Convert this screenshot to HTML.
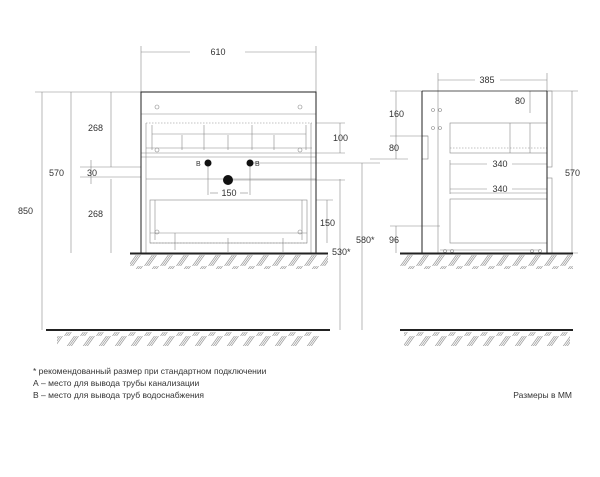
<!DOCTYPE html>
<html><head><meta charset="utf-8"><style>
html,body{margin:0;padding:0;background:#fff;width:600px;height:477px;overflow:hidden}
svg{display:block}
text{font-family:"Liberation Sans",sans-serif;fill:#333}
</style></head><body>
<svg width="600" height="477" viewBox="0 0 600 477" xmlns="http://www.w3.org/2000/svg">
<defs>
<pattern id="h" width="16" height="14" patternUnits="userSpaceOnUse">
<line x1="0.5" y1="14" x2="10.5" y2="0" stroke="#999" stroke-width="0.7"/>
<line x1="2.5" y1="14" x2="12.5" y2="0" stroke="#999" stroke-width="0.7"/>
<line x1="4.5" y1="14" x2="14.5" y2="0" stroke="#999" stroke-width="0.7"/>
</pattern>
</defs>
<g stroke="#888" stroke-width="0.6" fill="none">
<line x1="141" y1="46" x2="141" y2="92"/><line x1="316" y1="46" x2="316" y2="92"/>
<line x1="141" y1="52" x2="190" y2="52"/><line x1="245" y1="52" x2="316" y2="52"/>
<line x1="35" y1="92" x2="141" y2="92"/>
<line x1="42" y1="92" x2="42" y2="330"/>
<line x1="71" y1="92" x2="71" y2="253"/>
<line x1="111" y1="92" x2="111" y2="167"/><line x1="111" y1="179" x2="111" y2="253"/>
<line x1="91" y1="160" x2="91" y2="184"/>
<line x1="80" y1="167" x2="141" y2="167"/><line x1="80" y1="177" x2="141" y2="177"/>
<line x1="340" y1="123" x2="340" y2="153"/><line x1="316" y1="123" x2="345" y2="123"/><line x1="316" y1="153" x2="345" y2="153"/>
<line x1="327" y1="200" x2="327" y2="243"/><line x1="316" y1="200" x2="333" y2="200"/>
<line x1="340" y1="179" x2="340" y2="330"/>
<line x1="362" y1="163" x2="362" y2="330"/>
<line x1="250" y1="163" x2="380" y2="163"/>
<line x1="228" y1="180" x2="345" y2="180"/>
<line x1="208" y1="163" x2="208" y2="195"/><line x1="250" y1="163" x2="250" y2="195"/>
<line x1="210" y1="193" x2="218" y2="193"/><line x1="240" y1="193" x2="248" y2="193"/>
<line x1="141" y1="114" x2="316" y2="114"/>
<line x1="146" y1="123" x2="312" y2="123" stroke-dasharray="1.5 1.5"/>
<line x1="146" y1="148" x2="312" y2="148"/>
<line x1="141" y1="153" x2="316" y2="153"/><line x1="141" y1="157" x2="316" y2="157"/>
<line x1="146" y1="179" x2="316" y2="179"/>
<line x1="146" y1="123" x2="146" y2="157"/><line x1="311" y1="123" x2="311" y2="157"/>
<line x1="152" y1="125" x2="152" y2="150"/><line x1="306" y1="125" x2="306" y2="150"/>
<line x1="204" y1="125" x2="204" y2="150"/><line x1="252" y1="125" x2="252" y2="150"/>
<line x1="182" y1="135" x2="182" y2="150"/><line x1="228" y1="135" x2="228" y2="150"/><line x1="274" y1="135" x2="274" y2="150"/>
<line x1="152" y1="134" x2="306" y2="134"/>
<line x1="146" y1="157" x2="146" y2="253"/><line x1="311" y1="157" x2="311" y2="253"/>
<rect x="150" y="200" width="157" height="43"/>
<line x1="150" y1="243" x2="307" y2="243" stroke-dasharray="1.5 1.5"/>
<line x1="150" y1="233" x2="307" y2="233"/>
<line x1="155" y1="200" x2="155" y2="240"/><line x1="302" y1="200" x2="302" y2="240"/>
<line x1="175" y1="233" x2="175" y2="250"/><line x1="228" y1="238" x2="228" y2="252"/><line x1="283" y1="238" x2="283" y2="252"/>
<circle cx="157" cy="107" r="2"/><circle cx="300" cy="107" r="2"/>
<circle cx="157" cy="150" r="2"/><circle cx="300" cy="150" r="2"/>
<circle cx="157" cy="232" r="2"/><circle cx="300" cy="232" r="2"/>
<line x1="438" y1="73" x2="438" y2="91"/><line x1="547" y1="73" x2="547" y2="91"/>
<line x1="438" y1="80" x2="475" y2="80"/><line x1="500" y1="80" x2="547" y2="80"/>
<line x1="547" y1="91" x2="578" y2="91"/><line x1="552" y1="253" x2="578" y2="253"/>
<line x1="572" y1="91" x2="572" y2="253"/>
<line x1="390" y1="91" x2="422" y2="91"/>
<line x1="396" y1="91" x2="396" y2="159"/>
<line x1="390" y1="136" x2="428" y2="136"/>
<line x1="370" y1="159" x2="408" y2="159"/>
<line x1="396" y1="226" x2="396" y2="253"/><line x1="390" y1="226" x2="440" y2="226"/>
<line x1="530" y1="91" x2="530" y2="113"/>
<line x1="450" y1="164" x2="487" y2="164"/><line x1="512" y1="164" x2="547" y2="164"/>
<line x1="450" y1="189" x2="487" y2="189"/><line x1="512" y1="189" x2="547" y2="189"/>
<line x1="450" y1="160" x2="450" y2="194"/>
<line x1="438" y1="91" x2="438" y2="253"/>
<rect x="450" y="123" width="97" height="30"/>
<line x1="450" y1="148" x2="547" y2="148" stroke-dasharray="1.5 1.5"/>
<rect x="450" y="199" width="97" height="44"/>
<line x1="450" y1="193" x2="547" y2="193"/>
<rect x="547" y="91" width="5" height="76"/><rect x="547" y="178" width="5" height="75"/>
<rect x="422" y="136" width="6" height="23"/>
<line x1="440" y1="250" x2="540" y2="250"/>
<line x1="510" y1="123" x2="510" y2="153"/><line x1="530" y1="123" x2="530" y2="153"/>
<circle cx="433" cy="110" r="1.5"/><circle cx="440" cy="110" r="1.5"/>
<circle cx="433" cy="128" r="1.5"/><circle cx="440" cy="128" r="1.5"/>
<circle cx="445" cy="251" r="1.5"/><circle cx="452" cy="251" r="1.5"/>
<circle cx="532" cy="251" r="1.5"/><circle cx="540" cy="251" r="1.5"/>
</g>
<g stroke="#222" fill="none">
<rect x="141" y="92" width="175" height="161" stroke-width="1"/>
<line x1="422" y1="91" x2="422" y2="253" stroke-width="1"/>
<line x1="547" y1="91" x2="547" y2="253" stroke-width="1"/>
<line x1="422" y1="91" x2="547" y2="91" stroke-width="0.8"/>
<line x1="130" y1="253.5" x2="328" y2="253.5" stroke-width="2"/>
<line x1="400" y1="253.5" x2="573" y2="253.5" stroke-width="2"/>
<line x1="46" y1="330" x2="330" y2="330" stroke-width="2"/>
<line x1="400" y1="330" x2="573" y2="330" stroke-width="2"/>
</g>
<rect x="130" y="255" width="198" height="14" fill="url(#h)"/>
<rect x="400" y="255" width="173" height="14" fill="url(#h)"/>
<rect x="57" y="332" width="263" height="14" fill="url(#h)"/>
<rect x="404" y="332" width="166" height="14" fill="url(#h)"/>
<circle cx="208" cy="163" r="3.5" fill="#111"/>
<circle cx="250" cy="163" r="3.5" fill="#111"/>
<circle cx="228" cy="180" r="5" fill="#111"/>
<g font-size="9">
<text x="218" y="55" text-anchor="middle">610</text>
<text x="487" y="83" text-anchor="middle">385</text>
<text x="103" y="131" text-anchor="end">268</text>
<text x="103" y="217" text-anchor="end">268</text>
<text x="64" y="176" text-anchor="end">570</text>
<text x="87" y="176">30</text>
<text x="33" y="214" text-anchor="end">850</text>
<text x="333" y="141">100</text>
<text x="320" y="226">150</text>
<text x="229" y="196" text-anchor="middle">150</text>
<text x="356" y="243">580*</text>
<text x="332" y="255">530*</text>
<text x="196" y="166" font-size="7">В</text>
<text x="255" y="166" font-size="7">В</text>
<text x="389" y="117">160</text>
<text x="389" y="151">80</text>
<text x="389" y="243">96</text>
<text x="525" y="104" text-anchor="end">80</text>
<text x="500" y="167" text-anchor="middle">340</text>
<text x="500" y="192" text-anchor="middle">340</text>
<text x="565" y="176">570</text>
</g>
<g font-size="8.5">
<text x="33" y="374">* рекомендованный размер при стандартном подключении</text>
<text x="33" y="386">А – место для вывода трубы канализации</text>
<text x="33" y="398">В – место для вывода труб водоснабжения</text>
<text x="572" y="398" text-anchor="end">Размеры в ММ</text>
</g>
</svg>
</body></html>
